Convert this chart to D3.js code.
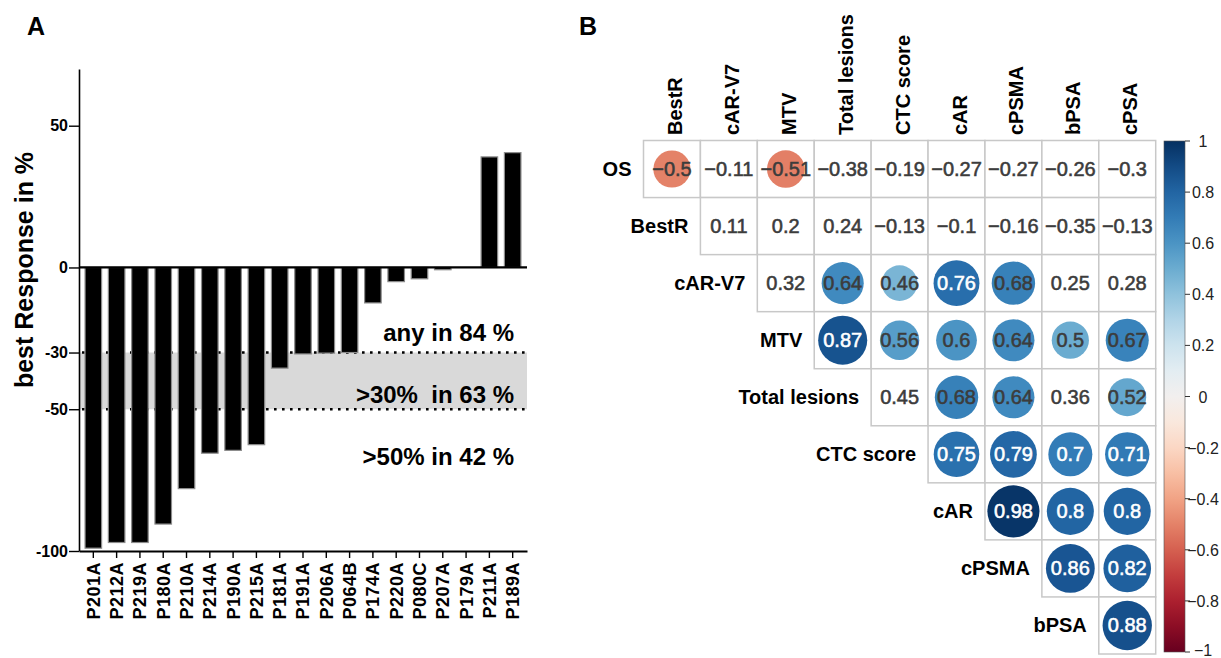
<!DOCTYPE html>
<html>
<head>
  <meta charset="utf-8">
  <title>Best response waterfall and correlation matrix</title>
  <style>
    html, body {
      margin: 0;
      padding: 0;
      background: #ffffff;
    }
    svg {
      display: block;
      font-family: "Liberation Sans", Arial, Helvetica, sans-serif;
    }
    .axis path, .axis line {
      stroke: #000;
    }
    .axis text {
      font-weight: bold;
      fill: #000;
    }
  </style>
</head>
<body>
  <svg id="chart" width="1221" height="658"></svg>

  <script src="https://d3js.org/d3.v7.min.js"></script>
  <script>
    // ---- panel A data ----
    const patients = ["P201A", "P212A", "P219A", "P180A", "P210A", "P214A", "P190A", "P215A",
      "P181A", "P191A", "P206A", "P064B", "P174A", "P220A", "P080C", "P207A", "P179A", "P211A", "P189A"];
    const bestResponse = [-99, -97, -97, -90.5, -78, -65.5, -64.5, -62.5,
      -35.5, -30.5, -30.2, -30, -12.5, -5, -4, -0.8, 0, 39, 40.5];
    const yTicks = [-100, -50, -30, 0, 50];
    const thresholds = [-30, -50];
    const notes = ["any in 84 %", ">30%  in 63 %", ">50% in 42 %"];
    const noteLevels = [-23, -45, -67];

    // ---- panel B data ----
    const rowVars = ["OS", "BestR", "cAR-V7", "MTV", "Total lesions", "CTC score", "cAR", "cPSMA", "bPSA"];
    const colVars = ["BestR", "cAR-V7", "MTV", "Total lesions", "CTC score", "cAR", "cPSMA", "bPSA", "cPSA"];
    // upper triangle, row i starts at column i
    const corrOS = [-0.5, -0.11, -0.51, -0.38, -0.19, -0.27, -0.27, -0.26, -0.3];
    const corrBestR = [0.11, 0.2, 0.24, -0.13, -0.1, -0.16, -0.35, -0.13];
    const corrARV7 = [0.32, 0.64, 0.46, 0.76, 0.68, 0.25, 0.28];
    const corrMTV = [0.87, 0.56, 0.6, 0.64, 0.5, 0.67];
    const corrLesions = [0.45, 0.68, 0.64, 0.36, 0.52];
    const corrCTC = [0.75, 0.79, 0.7, 0.71];
    const corrCAR = [0.98, 0.8, 0.8];
    const corrCPSMA = [0.86, 0.82];
    const corrBPSA = [0.88];
    // 1 = significant (drawn as a circle)
    const sigOS = [1, 0, 1, 0, 0, 0, 0, 0, 0];
    const sigBestR = [0, 0, 0, 0, 0, 0, 0, 0];
    const sigARV7 = [0, 1, 1, 1, 1, 0, 0];
    const sigMTV = [1, 1, 1, 1, 1, 1];
    const sigLesions = [0, 1, 1, 0, 1];
    const sigCTC = [1, 1, 1, 1];
    const sigCAR = [1, 1, 1];
    const sigCPSMA = [1, 1];
    const sigBPSA = [1];
    const colorTicks = [1, 0.8, 0.6, 0.4, 0.2, 0, -0.2, -0.4, -0.6, -0.8, -1];

    const corrRows = [corrOS, corrBestR, corrARV7, corrMTV, corrLesions, corrCTC, corrCAR, corrCPSMA, corrBPSA];
    const sigRows = [sigOS, sigBestR, sigARV7, sigMTV, sigLesions, sigCTC, sigCAR, sigCPSMA, sigBPSA];

    const svg = d3.select("#chart");
    const fmt = v => String(v).replace("-", "\u2212");

    // panel letters
    svg.append("text").attr("x", 27).attr("y", 35)
      .style("font-size", "25px").style("font-weight", "bold").text("A");
    svg.append("text").attr("x", 579).attr("y", 35)
      .style("font-size", "25px").style("font-weight", "bold").text("B");

    // ================= PANEL A =================
    const axisLeftX = 79, axisRightX = 527;
    const x = d3.scaleBand().domain(patients)
      .range([axisLeftX, axisRightX]).paddingInner(0.29).paddingOuter(0.26);
    const y = d3.scaleLinear().domain([-100, 70]).range([551, 69]);

    const gA = svg.append("g");

    // shaded band between thresholds
    gA.append("rect")
      .attr("x", axisLeftX).attr("width", axisRightX - axisLeftX)
      .attr("y", y(-30)).attr("height", y(-50) - y(-30))
      .attr("fill", "#d9d9d9");

    gA.selectAll("line.thr").data(thresholds).enter().append("line")
      .attr("class", "thr")
      .attr("x1", axisLeftX + 3).attr("x2", axisRightX)
      .attr("y1", d => y(d)).attr("y2", d => y(d))
      .attr("stroke", "#000").attr("stroke-width", 2.6)
      .attr("stroke-dasharray", "2.6,5.4");

    gA.selectAll("rect.bar").data(patients).enter().append("rect")
      .attr("class", "bar")
      .attr("x", d => x(d))
      .attr("width", x.bandwidth())
      .attr("y", (d, i) => y(Math.max(0, bestResponse[i])))
      .attr("height", (d, i) => Math.abs(y(bestResponse[i]) - y(0)))
      .attr("fill", "#000")
      .attr("stroke", "#8c8c8c").attr("stroke-width", 1.2);

    // zero line
    gA.append("line")
      .attr("x1", axisLeftX).attr("x2", axisRightX)
      .attr("y1", y(0)).attr("y2", y(0))
      .attr("stroke", "#000").attr("stroke-width", 2.2);

    // y axis
    const yAxis = gA.append("g").attr("class", "axis")
      .attr("transform", `translate(${axisLeftX},0)`)
      .call(d3.axisLeft(y).tickValues(yTicks).tickFormat(d => String(d))
        .tickSize(10).tickSizeOuter(0).tickPadding(1));
    yAxis.select(".domain").attr("stroke-width", 1.6);
    yAxis.selectAll(".tick line").attr("stroke-width", 1.4);
    yAxis.selectAll("text").style("font-size", "16px");

    // x axis at the bottom
    const xAxis = gA.append("g").attr("class", "axis")
      .attr("transform", `translate(0,${y(-100)})`)
      .call(d3.axisBottom(x).tickSize(7).tickSizeOuter(0));
    xAxis.select(".domain").attr("stroke-width", 1.8);
    xAxis.selectAll(".tick line").attr("stroke-width", 1.4);
    xAxis.selectAll("text")
      .style("font-size", "18px")
      .style("letter-spacing", "0.5px")
      .attr("transform", "rotate(-90)")
      .attr("text-anchor", "end")
      .attr("x", -11).attr("y", 0).attr("dy", "0.36em");

    // annotations
    gA.selectAll("text.note").data(notes).enter().append("text")
      .attr("class", "note")
      .attr("x", 514)
      .attr("y", (d, i) => y(noteLevels[i]) + 8)
      .attr("text-anchor", "end")
      .style("font-size", "24px").style("font-weight", "bold")
      .style("white-space", "pre")
      .text(d => d);

    // y label
    gA.append("text")
      .attr("transform", "translate(33,270) rotate(-90)")
      .attr("text-anchor", "middle")
      .style("font-size", "25px").style("font-weight", "bold")
      .text("best Response in %");

    // ================= PANEL B =================
    const gx = d3.scaleBand().domain(colVars).range([643.5, 1155.7]);
    const gy = d3.scaleBand().domain(rowVars).range([140.5, 654]);
    const color = d3.scaleSequential(d3.interpolateRdBu).domain([-1, 1]);
    const rScale = d3.scaleSqrt().domain([0, 1]).range([0, 26.3]);

    const cells = [];
    corrRows.forEach((vals, i) => {
      vals.forEach((v, k) => {
        cells.push({ row: rowVars[i], col: colVars[i + k], value: v, sig: sigRows[i][k] === 1 });
      });
    });

    const gB = svg.append("g");

    gB.selectAll("rect.cell").data(cells).enter().append("rect")
      .attr("class", "cell")
      .attr("x", d => gx(d.col)).attr("y", d => gy(d.row))
      .attr("width", gx.bandwidth()).attr("height", gy.bandwidth())
      .attr("fill", "#fff")
      .attr("stroke", "#c8c8c8").attr("stroke-width", 1.5);

    gB.selectAll("circle.corr").data(cells.filter(d => d.sig)).enter().append("circle")
      .attr("class", "corr")
      .attr("cx", d => gx(d.col) + gx.bandwidth() / 2)
      .attr("cy", d => gy(d.row) + gy.bandwidth() / 2)
      .attr("r", d => rScale(Math.abs(d.value)))
      .attr("fill", d => color(d.value));

    gB.selectAll("text.val").data(cells).enter().append("text")
      .attr("class", "val")
      .attr("x", d => gx(d.col) + gx.bandwidth() / 2)
      .attr("y", d => gy(d.row) + gy.bandwidth() / 2 + 7)
      .attr("text-anchor", "middle")
      .style("font-size", "20px")
      .attr("fill", d => (d.sig && Math.abs(d.value) >= 0.7) ? "#ffffff" : "#3c3c3c")
      .attr("stroke", d => (d.sig && Math.abs(d.value) >= 0.7) ? "#ffffff" : "#3c3c3c")
      .attr("stroke-width", 0.55)
      .text(d => fmt(d.value));

    // column labels
    gB.selectAll("text.colLab").data(colVars).enter().append("text")
      .attr("class", "colLab")
      .attr("transform", d => `translate(${gx(d) + gx.bandwidth() / 2 + 10},135) rotate(-90)`)
      .attr("text-anchor", "start")
      .style("font-size", "20px").style("font-weight", "bold")
      .text(d => d);

    // row labels
    gB.selectAll("text.rowLab").data(rowVars).enter().append("text")
      .attr("class", "rowLab")
      .attr("x", (d, i) => gx(colVars[i]) - 12)
      .attr("y", d => gy(d) + gy.bandwidth() / 2 + 7)
      .attr("text-anchor", "end")
      .style("font-size", "20px").style("font-weight", "bold")
      .text(d => d);

    // colour bar
    const cbX = 1164, cbW = 21;
    const cbY = d3.scaleLinear().domain([1, -1]).range([141, 652]);
    const defs = svg.append("defs");
    const grad = defs.append("linearGradient").attr("id", "rdbu")
      .attr("x1", 0).attr("y1", 1).attr("x2", 0).attr("y2", 0);
    d3.range(0, 1.0001, 0.05).forEach(t => {
      grad.append("stop").attr("offset", t).attr("stop-color", d3.interpolateRdBu(t));
    });
    gB.append("rect")
      .attr("x", cbX).attr("y", cbY(1)).attr("width", cbW).attr("height", cbY(-1) - cbY(1))
      .attr("fill", "url(#rdbu)")
      .attr("stroke", "#555").attr("stroke-width", 0.6);

    gB.selectAll("line.cbTick").data(colorTicks).enter().append("line")
      .attr("class", "cbTick")
      .attr("x1", cbX + cbW).attr("x2", cbX + cbW + 5)
      .attr("y1", d => cbY(d)).attr("y2", d => cbY(d))
      .attr("stroke", "#333").attr("stroke-width", 1);

    gB.selectAll("text.cbLab").data(colorTicks).enter().append("text")
      .attr("class", "cbLab")
      .attr("x", 1203)
      .attr("y", d => Math.min(cbY(d) + 6, 656))
      .attr("text-anchor", "middle")
      .style("font-size", "16px")
      .attr("fill", "#222")
      .text(d => fmt(d));
  </script>
</body>
</html>
